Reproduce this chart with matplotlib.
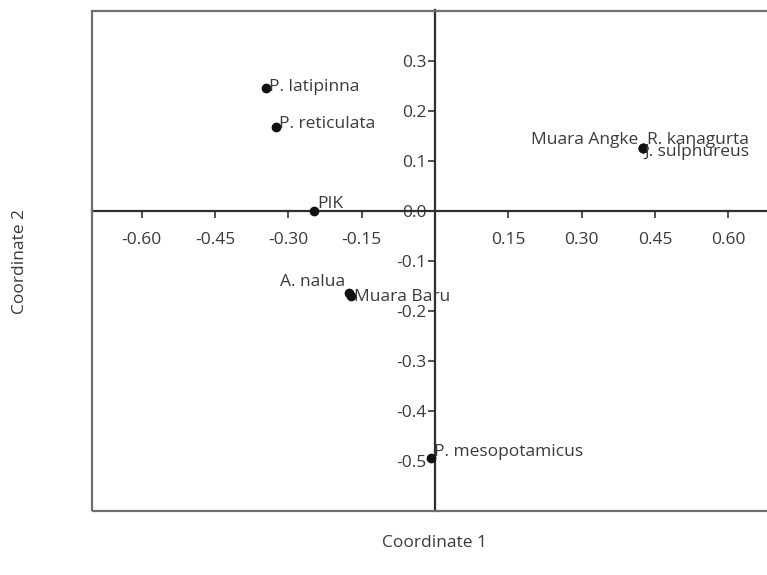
import matplotlib
matplotlib.use("Agg")
import matplotlib.pyplot as plt
from matplotlib.patches import Rectangle

# ---- data ----
labels = ["P. latipinna", "P. reticulata", "PIK", "A. nalua", "Muara Baru",
          "Muara Angke", "R. kanagurta", "J. sulphureus", "P. mesopotamicus"]
coord1 = [-0.346, -0.325, -0.247, -0.176, -0.172, 0.425, 0.425, 0.425, -0.008]
coord2 = [0.246, 0.168, 0.000, -0.164, -0.170, 0.126, 0.126, 0.126, -0.494]
xticks = [-0.60, -0.45, -0.30, -0.15, 0.15, 0.30, 0.45, 0.60]
yticks = [0.3, 0.2, 0.1, 0.0, -0.1, -0.2, -0.3, -0.4, -0.5]

# label placement (offset in points, ha, va)
label_style = {
    "P. latipinna": ((2, 1), "left", "center"),
    "P. reticulata": ((2, 2), "left", "center"),
    "PIK": ((2, -1), "left", "bottom"),
    "A. nalua": ((-3, 2), "right", "bottom"),
    "Muara Baru": ((2, -1), "left", "center"),
    "Muara Angke": ((-3, 6), "right", "center"),
    "R. kanagurta": ((3, 6), "left", "center"),
    "J. sulphureus": ((1, -3), "left", "center"),
    "P. mesopotamicus": ((2, 4), "left", "center"),
}

plt.rcParams['font.family'] = ['Open Sans', 'DejaVu Sans']
txt_color = '#3a3a3a'
fs = 12.5

W, H = 767, 575
fig = plt.figure(figsize=(W / 100, H / 100), dpi=100)
ax = fig.add_axes([92 / W, 1 - 511 / H, (775 - 92) / W, (511 - 10.5) / H])
ax.set_xlim(-0.7014, 0.6953)
ax.set_ylim(-0.600, 0.401)

# frame
for s in ["top", "right"]:
    ax.spines[s].set_visible(False)
ax.add_patch(Rectangle((0, 0), 1, 1, transform=ax.transAxes, fill=False,
                       edgecolor='#6e6e6e', lw=1.6, clip_on=False, zorder=5))
for s in ["left", "bottom"]:
    ax.spines[s].set_position(('data', 0))
    ax.spines[s].set_color('#2e2e2e')
    ax.spines[s].set_linewidth(1.6)

ax.set_xticks(xticks)
ax.set_xticklabels([f"{v:.2f}" for v in xticks])
ax.set_yticks(yticks)
ax.set_yticklabels([f"{v:.1f}" for v in yticks])
ax.tick_params(axis='both', direction='out', length=5, width=1.2,
               colors='#333333', labelcolor=txt_color, labelsize=fs, pad=1)
ax.tick_params(axis='x', pad=10)

ax.scatter(coord1, coord2, s=36, color='#111111', zorder=6, clip_on=False)
for name, x, y in zip(labels, coord1, coord2):
    off, ha, va = label_style[name]
    ax.annotate(name, (x, y), xytext=off, textcoords='offset points',
                ha=ha, va=va, fontsize=fs, color=txt_color, zorder=7)

fig.text(434 / W, 1 - 543 / H, "Coordinate 1", ha='center', va='center',
         fontsize=fs, color=txt_color)
fig.text(20 / W, 1 - 262 / H, "Coordinate 2", ha='center', va='center',
         rotation=90, fontsize=fs, color=txt_color)

fig.savefig("out.png", dpi=100)
